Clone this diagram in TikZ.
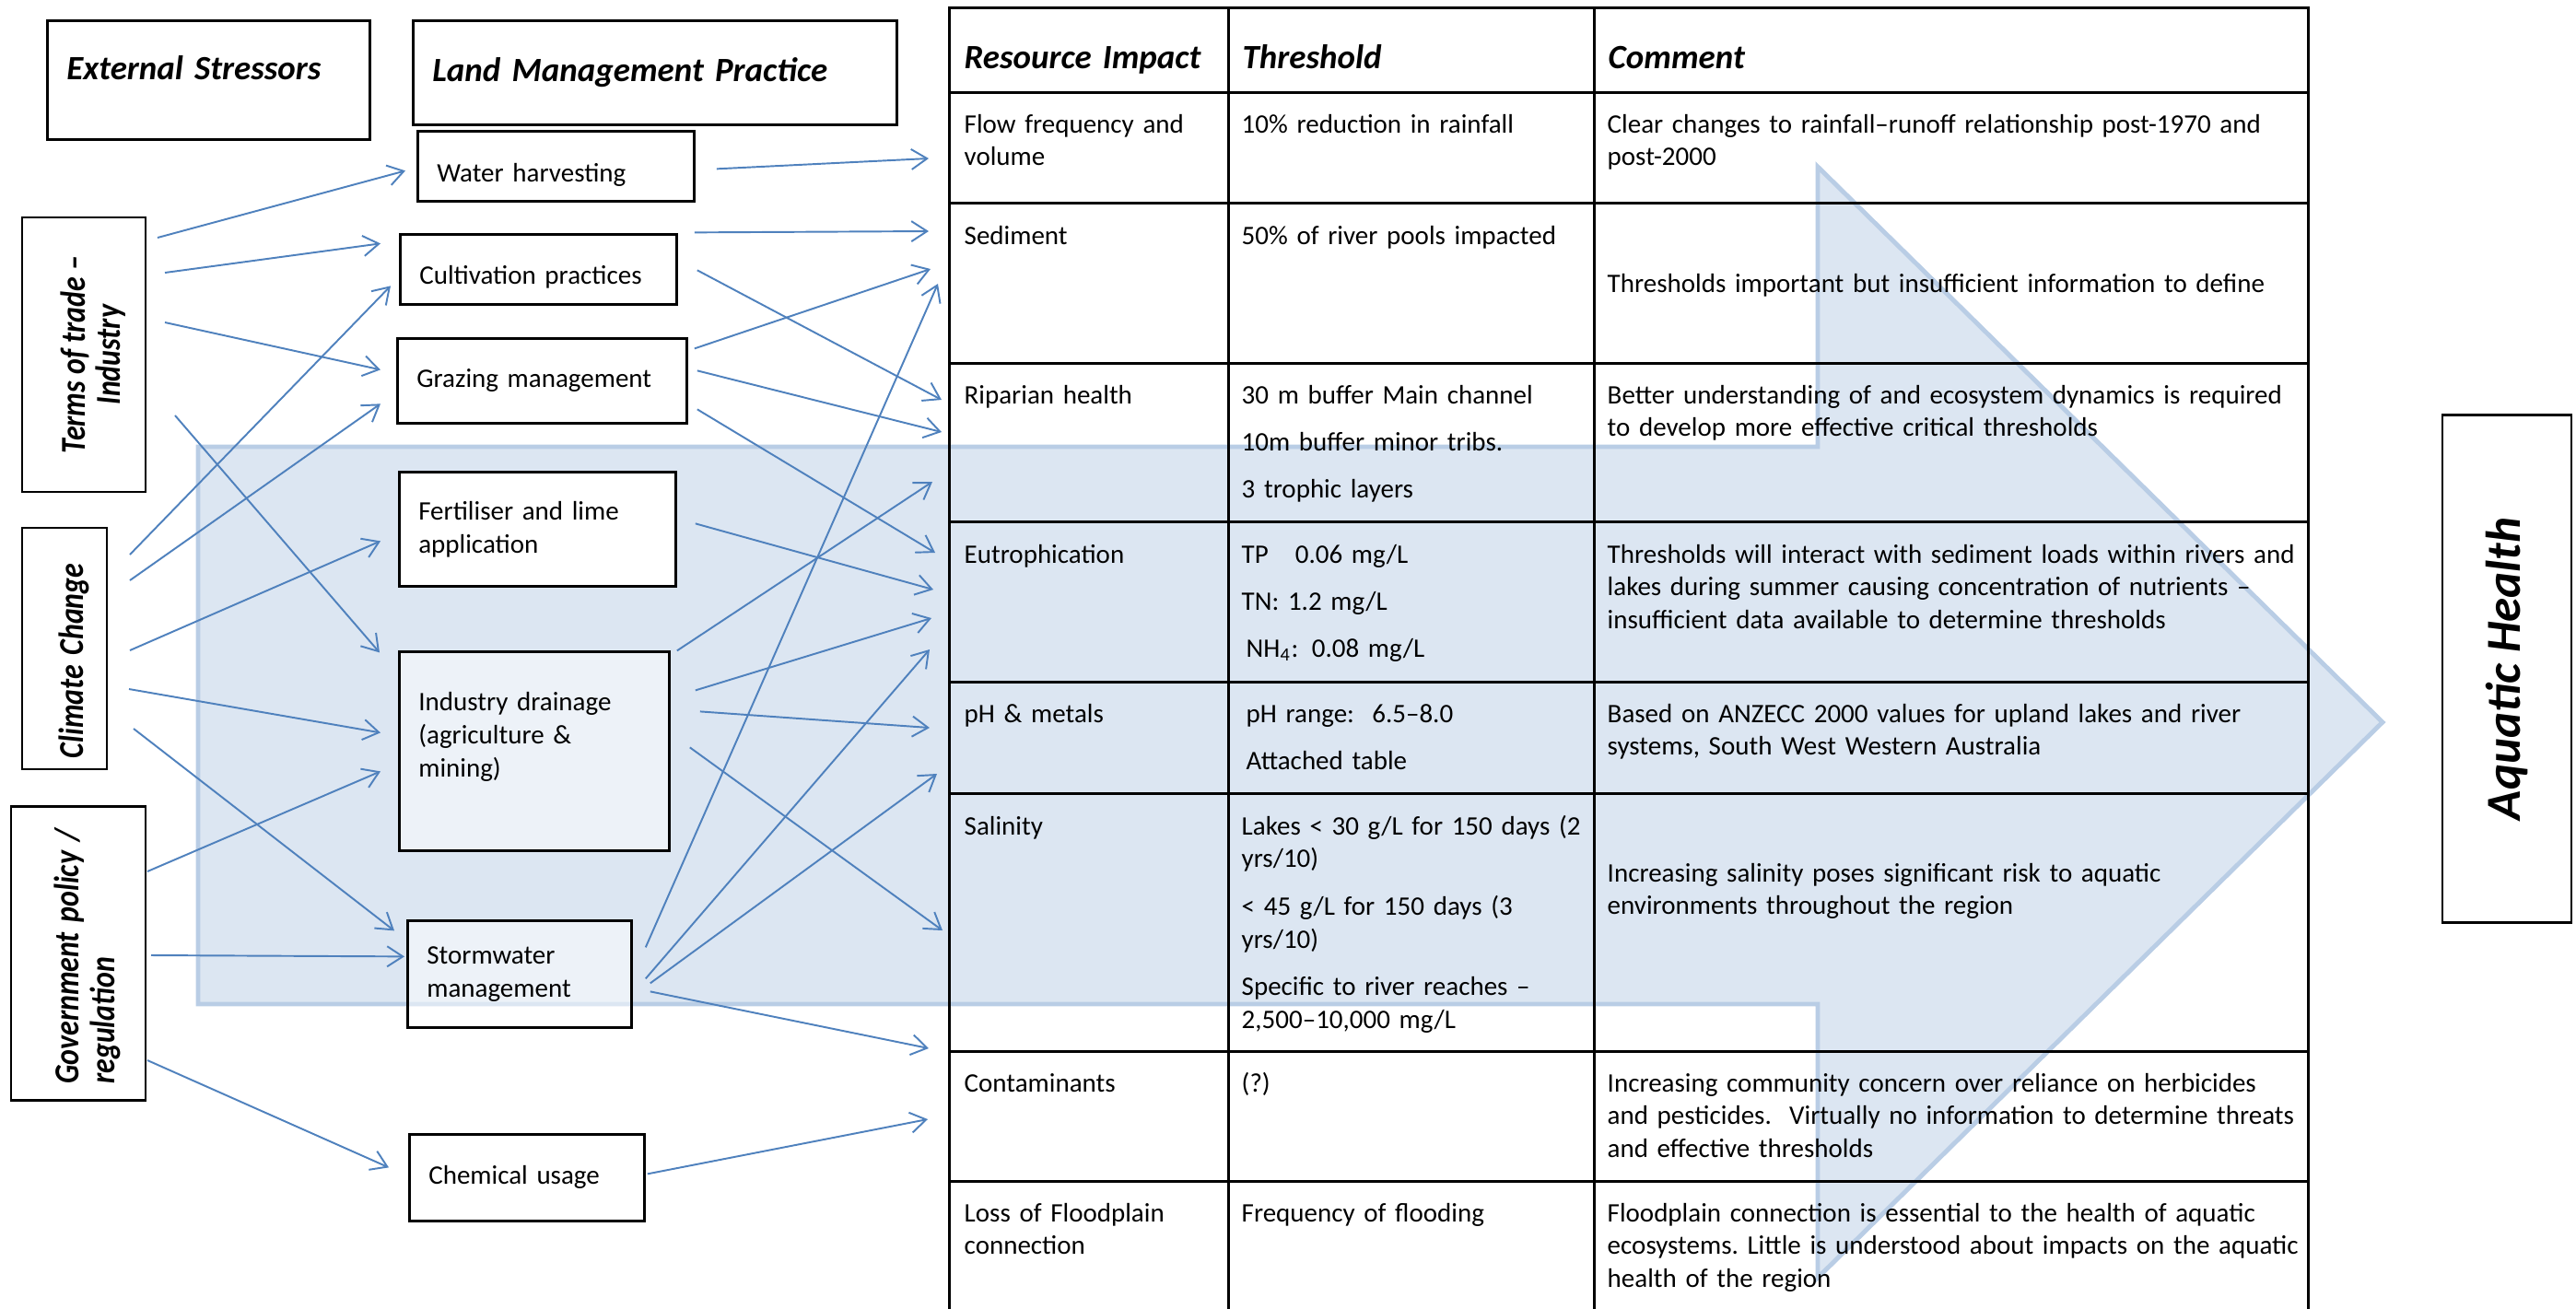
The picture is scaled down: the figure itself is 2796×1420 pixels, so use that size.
\documentclass[tikz,border=0pt]{standalone}
\usepackage{fontspec}
\usepackage{graphicx}
\setmainfont{Carlito}
\usetikzlibrary{arrows.meta}

\definecolor{flowblue}{RGB}{79,129,189}
\definecolor{bandfill}{RGB}{220,230,242}
\definecolor{bandline}{RGB}{185,205,229}
\newcommand{\narrowtext}[1]{\raisebox{-1mm}[\height][\depth]{\scalebox{0.84}[1]{#1}}}

\begin{document}
\begin{tikzpicture}[x=0.01cm, y=-0.01cm, >={Straight Barb[length=1.7mm,width=2.2mm]},
	head box/.style={draw, line width=0.75pt, anchor=north west, align=left, inner xsep=2.1mm,
		font=\fontsize{10.5}{12.8}\selectfont\bfseries\itshape},
	stressor/.style={draw, line width=0.75pt, rotate=90, fill=white,
		font=\fontsize{10.8}{10.9}\selectfont\bfseries\itshape},
	practice/.style={draw, line width=0.75pt, anchor=north west, fill=white, align=left, inner xsep=2.1mm,
		font=\fontsize{8.25}{10.2}\selectfont},
	cell/.style={anchor=base west, inner sep=0pt, align=left, font=\fontsize{8.25}{10.2}\selectfont},
	col a/.style={cell, text width=27mm},
	col b/.style={cell, text width=37mm},
	col c/.style={cell, text width=78mm},
	cell head/.style={font=\fontsize{10.5}{12.8}\selectfont\bfseries\itshape},
	grid line/.style={line width=0.85pt, line cap=rect},
	flow/.style={->, draw=flowblue, line width=0.55pt}]

	\useasboundingbox (0,0) rectangle (2796,1420);

	\draw[line width=1.4pt, draw=bandline, fill=bandfill]
		(215,485) -- (1973,485) -- (1973,181) -- (2586,784) -- (1973,1387) -- (1973,1090) -- (215,1090) -- cycle;

	\foreach \y in {8,100,220,394,566,740,861,1141,1282}
		\draw[grid line] (1030,\y) -- (2505,\y);
	\foreach \x in {1030,1333,1730,2505}
		\draw[grid line] (\x,8) -- (\x,1420);

	\node[head box, text width=30.8mm, minimum height=12.9mm, text depth=2.6mm] at (50,21) (stressors) {External Stressors};
	\node[head box, text width=48.3mm, minimum height=11.3mm] at (447,21) (practices) {Land Management Practice};

	\node[stressor, align=center, minimum width=29.8mm, minimum height=13.4mm] at (91,385) (trade) {\narrowtext{Terms of trade –}\\\narrowtext{Industry}};
	\node[stressor, align=left, text width=23.8mm, inner xsep=1.2mm, minimum height=9.2mm] at (70,704) (climate) {\narrowtext{Climate Change}};
	\node[stressor, align=left, text width=28.3mm, inner xsep=1.8mm, minimum height=14.6mm] at (85,1035) (policy) {\narrowtext{Government policy /}\\\narrowtext{regulation}};

	\node[practice, text width=25.8mm, minimum height=7.6mm, text height=3.4mm, text depth=0pt] at (452,141) (water) {Water harvesting};
	\node[practice, text width=25.8mm, minimum height=7.6mm, text height=3.2mm, text depth=0pt] at (433,253) (cultivation) {Cultivation practices};
	\node[practice, text width=27.2mm, minimum height=9.2mm] at (430,366) (grazing) {Grazing management};
	\node[practice, text width=25.8mm, minimum height=12.4mm] at (432,511) (fertiliser) {Fertiliser and lime\\application};
	\node[practice, text width=25.1mm, minimum height=21.6mm, fill opacity=0.5, text opacity=1] at (432,706) (drainage) {Industry drainage\\(agriculture \&\\mining)\\~};
	\node[practice, text width=20.1mm, minimum height=11.6mm, fill opacity=0.5, text opacity=1] at (441,998) (stormwater) {Stormwater\\management};
	\node[practice, text width=21.3mm, minimum height=9.4mm] at (443,1230) (chemical) {Chemical usage};

	\node[col a, cell head] at (1046,74) (impact) {Resource Impact};
	\node[col b, cell head] at (1348,74) (threshold) {Threshold};
	\node[col c, cell head] at (1745,74) (comment) {Comment};

	\node[col a] at (1046,144) (flow) {Flow frequency and\\volume};
	\node[col b] at (1347,144) (flow-t) {10\% reduction in rainfall};
	\node[col c] at (1744,144) (flow-c) {Clear changes to rainfall–runoff relationship post-1970 and\\post-2000};

	\node[col a] at (1046,265) (sediment) {Sediment};
	\node[col b] at (1347,265) (sediment-t) {50\% of river pools impacted};
	\node[col c] at (1744,317) (sediment-c) {Thresholds important but insufficient information to define};

	\node[col a] at (1046,438) (riparian) {Riparian health};
	\node[col b] at (1347,438) (riparian-t) {30 m buffer Main channel\\[4.4pt]10m buffer minor tribs.\\[4.4pt]3 trophic layers};
	\node[col c] at (1744,438) (riparian-c) {Better understanding of and ecosystem dynamics is required\\to develop more effective critical thresholds};

	\node[col a] at (1046,611) (eutrophication) {Eutrophication};
	\node[col b] at (1347,611) (eutrophication-t) {TP\ \ \ 0.06 mg/L\\[4.4pt]TN: 1.2 mg/L\\[4.4pt]\hspace*{0.5mm}NH\textsubscript{4}: 0.08 mg/L};
	\node[col c] at (1744,611) (eutrophication-c) {Thresholds will interact with sediment loads within rivers and\\lakes during summer causing concentration of nutrients –\\insufficient data available to determine thresholds};

	\node[col a] at (1046,784) (metals) {pH \& metals};
	\node[col b] at (1352,784) (metals-t) {pH range:\ \ 6.5–8.0\\[4.4pt]Attached table};
	\node[col c] at (1744,784) (metals-c) {Based on ANZECC 2000 values for upland lakes and river\\systems, South West Western Australia};

	\node[col a] at (1046,906) (salinity) {Salinity};
	\node[col b] at (1347,906) (salinity-t) {Lakes < 30 g/L for 150 days (2\\yrs/10)\\[4.4pt]< 45 g/L for 150 days (3\\yrs/10)\\[4.4pt]Specific to river reaches –\\2,500–10,000 mg/L};
	\node[col c] at (1744,957) (salinity-c) {Increasing salinity poses significant risk to aquatic\\environments throughout the region};

	\node[col a] at (1046,1185) (contaminants) {Contaminants};
	\node[col b] at (1347,1185) (contaminants-t) {(?)};
	\node[col c] at (1744,1185) (contaminants-c) {Increasing community concern over reliance on herbicides\\and pesticides.\ \ Virtually no information to determine threats\\and effective thresholds};

	\node[col a] at (1046,1326) (floodplain) {Loss of Floodplain\\connection};
	\node[col b] at (1347,1326) (floodplain-t) {Frequency of flooding};
	\node[col c] at (1744,1326) (floodplain-c) {Floodplain connection is essential to the health of aquatic\\ecosystems.\ Little is understood about impacts on the aquatic\\health of the region};

	\node[draw, line width=0.75pt, rotate=90, minimum width=55.1mm, minimum height=14mm,
		font=\fontsize{15.1}{18}\selectfont\bfseries\itshape] at (2721,726) (health) {Aquatic Health};

	\path
	([shift={(80,-127)}]trade.center) edge[flow] ([shift={(-12,5)}]water.west)
	([shift={(88,-89)}]trade.center) edge[flow] ([shift={(-20,-28)}]cultivation.west)
	([shift={(88,-35)}]trade.center) edge[flow] ([shift={(-17,-12)}]grazing.west)
	([shift={(99,66)}]trade.center) edge[flow] ([shift={(-20,-107)}]drainage.west)
	([shift={(71,-102)}]climate.center) edge[flow] ([shift={(-9,18)}]cultivation.west)
	([shift={(71,-74)}]climate.center) edge[flow] ([shift={(-17,25)}]grazing.west)
	([shift={(71,2)}]climate.center) edge[flow] ([shift={(-19,13)}]fertiliser.west)
	([shift={(70,44)}]climate.center) edge[flow] ([shift={(-19,-20)}]drainage.west)
	([shift={(75,87)}]climate.center) edge[flow] ([shift={(-13,-47)}]stormwater.west)
	([shift={(75,-89)}]policy.center) edge[flow] ([shift={(-19,22)}]drainage.west)
	([shift={(79,2)}]policy.center) edge[flow] ([shift={(-2,-19)}]stormwater.west)
	([shift={(75,116)}]policy.center) edge[flow] ([shift={(-21,-11)}]chemical.west)
	;
	\path
	([shift={(23,3)}]water.east) edge[flow] ([shift={(-38,28)}]flow.base west)
	([shift={(18,-40)}]cultivation.east) edge[flow] ([shift={(-38,-14)}]sediment.base west)
	([shift={(21,1)}]cultivation.east) edge[flow] ([shift={(-24,-4)}]riparian.base west)
	([shift={(7,-35)}]grazing.east) edge[flow] ([shift={(-36,27)}]sediment.base west)
	([shift={(10,-11)}]grazing.east) edge[flow] ([shift={(-24,31)}]riparian.base west)
	([shift={(10,31)}]grazing.east) edge[flow] ([shift={(-31,-11)}]eutrophication.base west)
	([shift={(20,-6)}]fertiliser.east) edge[flow] ([shift={(-33,29)}]eutrophication.base west)
	([shift={(7,-109)}]drainage.east) edge[flow] ([shift={(-34,85)}]riparian.base west)
	([shift={(27,-66)}]drainage.east) edge[flow] ([shift={(-35,60)}]eutrophication.base west)
	([shift={(32,-43)}]drainage.east) edge[flow] ([shift={(-37,6)}]metals.base west)
	([shift={(21,-4)}]drainage.east) edge[flow] ([shift={(-23,104)}]salinity.base west)
	([shift={(14,-29)}]stormwater.east) edge[flow] ([shift={(-28,43)}]sediment.base west)
	([shift={(14,5)}]stormwater.east) edge[flow] ([shift={(-37,94)}]eutrophication.base west)
	([shift={(19,10)}]stormwater.east) edge[flow] ([shift={(-29,56)}]metals.base west)
	([shift={(19,19)}]stormwater.east) edge[flow] ([shift={(-38,-47)}]contaminants.base west)
	([shift={(2,-4)}]chemical.east) edge[flow] ([shift={(-39,30)}]contaminants.base west)
	;

\end{tikzpicture}
\end{document}
